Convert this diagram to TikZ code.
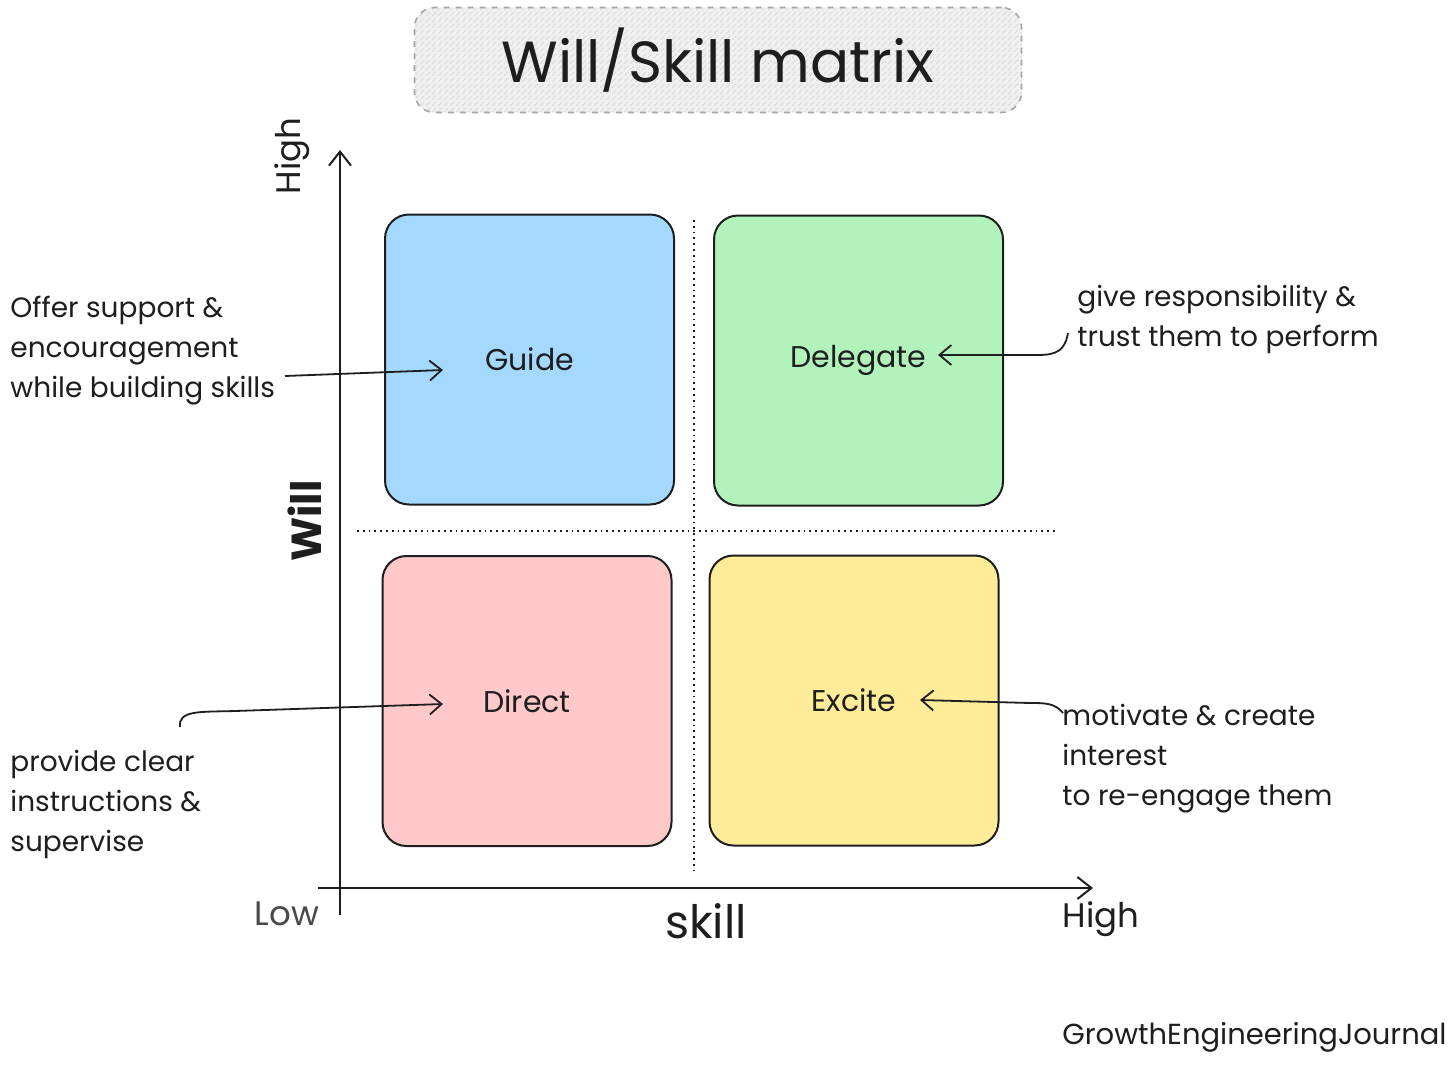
\documentclass[tikz,border=0pt]{standalone}
\usepackage{fontspec}
\setmainfont{Poppins}
\usetikzlibrary{arrows.meta,patterns}
\definecolor{ink}{HTML}{1E1E1E}
\definecolor{qblue}{HTML}{A5D8FF}
\definecolor{qgreen}{HTML}{B2F2BB}
\definecolor{qred}{HTML}{FFC9C9}
\definecolor{qyellow}{HTML}{FFEC99}
\definecolor{lowgray}{HTML}{4A4A4A}
\tikzset{
  quad/.style={draw=ink, line width=1pt, rounded corners=12pt, minimum width=144.5pt, minimum height=145pt, text=ink, font=\fontsize{15}{18}\selectfont},
  note/.style={anchor=north west, inner sep=0pt, align=left, text=ink, font=\fontsize{14}{20}\selectfont},
  arr/.style={draw=ink, line width=0.9pt, -{Straight Barb[length=6pt,width=10pt]}},
  axisline/.style={draw=ink, line width=1pt},
  guideline/.style={draw=ink, line width=0.9pt, dotted},
  axislabel/.style={text=ink, inner sep=0pt},
}
\begin{document}
\begin{tikzpicture}[x=0.5pt,y=-0.5pt]
\useasboundingbox (0,0) rectangle (1456,1066);
\fill[white] (0,0) rectangle (1456,1066);

% title
\node[draw=gray!70, dashed, line width=0.8pt, rounded corners=10pt,
      preaction={fill=gray!12}, pattern=north east lines, pattern color=gray!30,
      minimum width=303.5pt, minimum height=52.5pt, text=ink,
      font=\fontsize{29}{34}\selectfont] (title) at (718,60) {Will/Skill matrix};

% dotted guides
\coordinate (vtop) at (694,220);
\coordinate (vbot) at (694,870);
\coordinate (hl) at (357,531);
\coordinate (hr) at (1058,531);
\draw[guideline] (vtop) -- (vbot);
\draw[guideline] (hl) -- (hr);

% quadrants
\node[quad, fill=qblue]   (guide)    at (529.5,359.5) {Guide};
\node[quad, fill=qgreen]  (delegate) at (858.5,360.5) {Delegate};
\node[quad, fill=qred]    (direct)   at (527,701)     {Direct};
\node[quad, fill=qyellow] (excite)   at (854,700.5)   {Excite};

% axes
\coordinate (ybot) at (340,915);
\coordinate (ytop) at (340,150);
\coordinate (xleft) at (318,888);
\coordinate (xright) at (1093,888);
\draw[axisline, -{Straight Barb[length=7pt,width=11pt]}] (ybot) -- (ytop);
\draw[axisline, -{Straight Barb[length=7pt,width=11pt]}] (xleft) -- (xright);

% axis labels
\node[axislabel, rotate=90, font=\fontsize{17}{20}\selectfont] (yhigh) at (292,156) {High};
\node[axislabel, rotate=90, font=\bfseries\fontsize{21}{26}\selectfont] (ywill) at (305,521) {Will};
\node[axislabel, text=lowgray, font=\fontsize{17}{20}\selectfont] (xlow) at (287,914) {Low};
\node[axislabel, font=\fontsize{23}{26}\selectfont] (xskill) at (706,921) {skill};
\node[axislabel, font=\fontsize{17}{20}\selectfont] (xhigh) at (1101,919) {High};

% notes
\node[note] (offer) at (10,296) {Offer support \&\\encouragement\\while building skills};
\node[note] (give) at (1077,285) {give responsibility \&\\trust them to perform};
\node[note] (provide) at (10,750) {provide clear\\instructions \&\\supervise};
\node[note] (motivate) at (1062,704) {motivate \& create\\interest\\to re-engage them};

% connectors
\coordinate (offerend) at (285,376);
\coordinate (guidetip) at (443,370);
\draw[arr] (offerend) -- (guidetip);

\coordinate (givestart) at (1068,333);
\coordinate (delegatetip) at (938,355);
\draw[arr] (givestart) .. controls (1064,356) and (1050,355) .. (1030,355) -- (delegatetip);

\coordinate (providestart) at (180,727);
\coordinate (directtip) at (443,704);
\draw[arr] (providestart) .. controls (178,710) and (200,712) .. (235,711) -- (directtip);

\coordinate (motivatestart) at (1063,713);
\coordinate (excitetip) at (920,700);
\draw[arr] (motivatestart) .. controls (1055,703) and (1045,703) .. (1030,703) -- (excitetip);

% footer
\node[anchor=east, inner sep=0pt, text=ink, font=\fontsize{14.5}{17}\selectfont] (footer) at (1447,1037) {GrowthEngineeringJournal};
\end{tikzpicture}
\end{document}
